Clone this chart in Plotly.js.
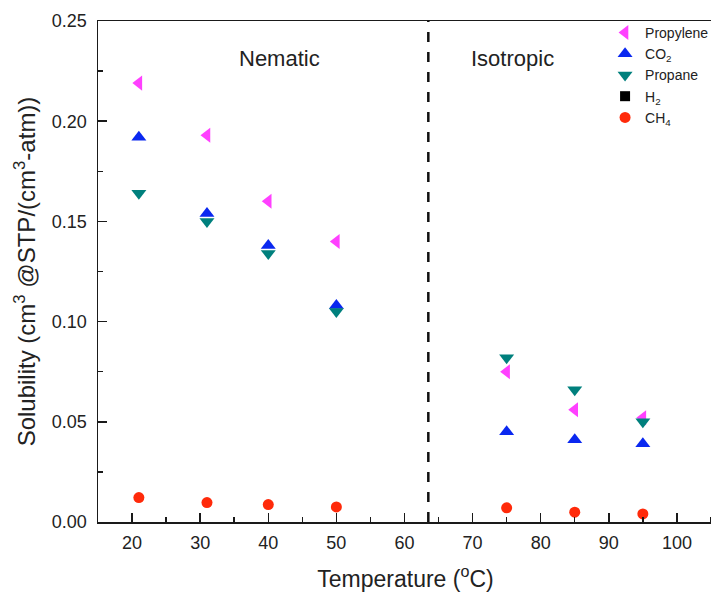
<!DOCTYPE html>
<html>
<head>
<meta charset="utf-8">
<script src="https://cdn.plot.ly/plotly-3.0.1.min.js"></script>
<style>
  html, body { margin: 0; padding: 0; background: #fff; overflow: hidden; }
  #chart { width: 780px; height: 592px; }
</style>
</head>
<body>
<div id="chart"></div>
<script>
// Gas solubility vs temperature across the nematic -> isotropic transition
const temperatures = [21, 31, 40, 50, 75, 85, 95];
const propylene = [0.219, 0.193, 0.160, 0.140, 0.075, 0.056, 0.052];
const co2       = [0.192, 0.154, 0.138, 0.108, 0.045, 0.041, 0.039];
const propane   = [0.164, 0.150, 0.134, 0.105, 0.082, 0.066, 0.050];
const h2        = [null, null, null, null, null, null, null];
const ch4       = [0.0122, 0.0097, 0.0087, 0.0075, 0.0071, 0.0049, 0.0040];

const seriesNames = ['Propylene', 'CO<sub>2</sub>', 'Propane', 'H<sub>2</sub>', 'CH<sub>4</sub>'];
const transitionTemp = 63.5;
const phaseLabels = [
  { text: 'Nematic', x: 41.7, y: 0.2315 },
  { text: 'Isotropic', x: 75.8, y: 0.2315 }
];

const FONT = 'Arial, "Liberation Sans", sans-serif';

function series(name, y, symbol, color, size) {
  return {
    type: 'scatter', mode: 'markers', name: name,
    x: temperatures, y: y,
    marker: { symbol: symbol, color: color, size: size, line: { width: 0 } }
  };
}

const data = [
  series(seriesNames[0], propylene, 'triangle-left', '#ff40ff', 13),
  series(seriesNames[1], co2, 'triangle-up', '#0a28f0', 13),
  series(seriesNames[2], propane, 'triangle-down', '#00807d', 13),
  series(seriesNames[3], h2, 'square', '#000000', 10),
  series(seriesNames[4], ch4, 'circle', '#ff2a0a', 11)
];

const axisCommon = {
  showgrid: false, zeroline: false,
  showline: true, linecolor: '#1a1a1a', linewidth: 1.5, mirror: true,
  ticks: 'inside', ticklen: 9, tickwidth: 1.5, tickcolor: '#1a1a1a',
  tickfont: { family: FONT, size: 18, color: '#222' }
};

const layout = {
  width: 780, height: 592,
  margin: { l: 98, r: 67, t: 21, b: 70 },
  paper_bgcolor: '#fff', plot_bgcolor: '#fff',
  font: { family: FONT, color: '#222' },
  showlegend: true,
  legend: {
    x: 0.8245, y: 1.008, xanchor: 'left', yanchor: 'top',
    bgcolor: 'rgba(0,0,0,0)', borderwidth: 0,
    font: { family: FONT, size: 14, color: '#222' },
    tracegroupgap: 0
  },
  xaxis: Object.assign({}, axisCommon, {
    range: [15, 105.3], tickmode: 'array',
    tickvals: [20, 30, 40, 50, 60, 70, 80, 90, 100],
    ticklabelstandoff: 4,
    minor: { dtick: 5, tick0: 15, ticks: 'inside', ticklen: 5, tickwidth: 1.5, tickcolor: '#1a1a1a' },
    title: { text: 'Temperature (<sup>o</sup>C)', font: { family: FONT, size: 23, color: '#222' }, standoff: 20 }
  }),
  yaxis: Object.assign({}, axisCommon, {
    range: [0, 0.25], dtick: 0.05, tickformat: '.2f',
    minor: { dtick: 0.025, ticks: 'inside', ticklen: 5, tickwidth: 1.5, tickcolor: '#1a1a1a' },
    ticklabelstandoff: 6,
    title: { text: 'Solubility (cm<sup>3</sup> @STP/(cm<sup>3</sup>-atm))', font: { family: FONT, size: 24, color: '#222' }, standoff: 9 }
  }),
  shapes: [{
    type: 'line', xref: 'x', yref: 'paper',
    x0: transitionTemp, x1: transitionTemp, y0: 0, y1: 1,
    line: { color: '#111', width: 2.5, dash: '10px,10px' }
  }],
  annotations: phaseLabels.map(p => ({
    text: p.text, x: p.x, y: p.y, xref: 'x', yref: 'y',
    showarrow: false, font: { family: FONT, size: 22, color: '#222' }
  }))
};

Plotly.newPlot('chart', data, layout, { displayModeBar: false, staticPlot: true });
</script>
</body>
</html>
